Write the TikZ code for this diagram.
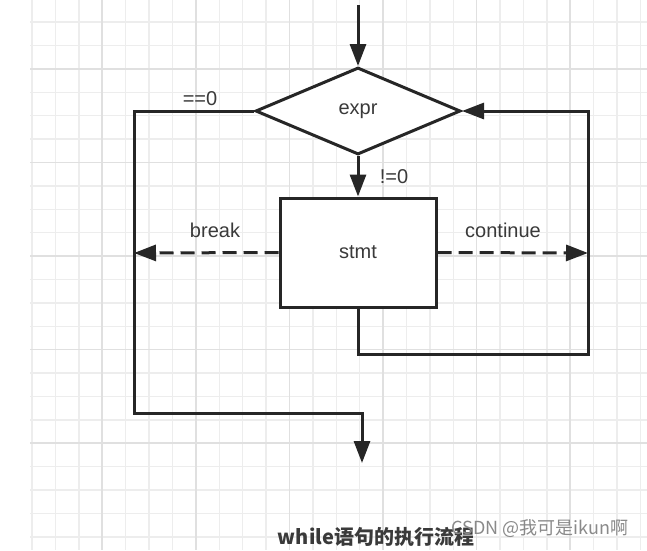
\documentclass[tikz,border=0pt]{standalone}
\usepackage{fontspec}
\usepackage{tikz}
\usepackage{xcolor}
\usetikzlibrary{arrows.meta, positioning, shapes.geometric}
\setmainfont{Liberation Sans}
\newfontfamily\cjk{Noto Sans CJK SC}
\definecolor{gridgray}{HTML}{EDEDED}
\definecolor{gridmajor}{HTML}{E0E0E0}
\definecolor{linegray}{HTML}{262626}
\definecolor{textgray}{HTML}{3A3A3A}
\definecolor{markgray}{HTML}{8A8A8A}

\begin{document}
\begin{tikzpicture}[
    x=1pt, y=-1pt,
    grid/.style={gridgray, line width=1.4pt},
    gridmaj/.style={gridmajor, line width=1.6pt},
    decision/.style={diamond, draw=linegray, line width=3pt, fill=white, inner sep=0pt, minimum width=205pt, minimum height=87pt, font=\fontsize{20}{24}\selectfont, text=textgray},
    box/.style={rectangle, draw=linegray, line width=3pt, fill=white, minimum width=156pt, minimum height=109pt, font=\fontsize{20}{24}\selectfont, text=textgray},
    arrow/.style={-{Triangle[length=22pt, width=16pt]}, line width=3pt, linegray},
    jump/.style={-{Triangle[length=22pt, width=16pt]}, line width=3pt, linegray, dash pattern=on 14pt off 7pt},
    lbl/.style={font=\fontsize{20}{24}\selectfont, text=textgray}
]
\useasboundingbox (0,0) rectangle (647,550);
\fill[white] (0,0) rectangle (647,550);

% background grid
\foreach \i in {0,...,22} {
  \draw[grid] (30,22+\i*23.4) -- (647,22+\i*23.4);
}
\foreach \i in {0,...,26} {
  \draw[grid] (32+\i*23.4,0) -- (32+\i*23.4,550);
}
\foreach \i in {0,...,4} {
  \draw[gridmaj] (30,68.8+\i*93.6) -- (647,68.8+\i*93.6);
}
\foreach \i in {0,...,5} {
  \draw[gridmaj] (102.2+\i*93.6,0) -- (102.2+\i*93.6,550);
}

\node[decision] (expr) at (358,111) {expr};
\node[box] (stmt) at (358,252.5) {stmt};

\coordinate (entry) at (358,5);
\coordinate (exit) at (362,463);
\coordinate (leftbot) at (134,413);
\coordinate (lefttop) at (134,111);
\coordinate (rightbot) at (588,354);
\coordinate (righttop) at (588,111);
\coordinate (brk) at (134,253);
\coordinate (cnt) at (588,253);

\draw[arrow] (entry) -- (expr.north);
\draw[arrow] (expr.south) -- (stmt.north);
\draw[arrow] (expr.west) -- (lefttop) -- (leftbot) -| (exit);
\draw[arrow] (stmt.south) |- (rightbot) -- (righttop) -- (expr.east);
\draw[jump] (stmt.west) -- (brk);
\draw[jump] (stmt.east) -- (cnt);

\node[lbl] (zero) at (200,99) {==0};
\node[lbl] (nonzero) at (394,177) {!=0};
\node[lbl] (brklbl) at (215,230) {break};
\node[lbl] (cntlbl) at (503,230) {continue};

\node[font=\cjk\fontsize{20}{24}\selectfont\bfseries, text=textgray] (caption) at (376,537) {while语句的执行流程};
\node[font=\cjk\fontsize{18}{22}\selectfont, text=markgray] (mark) at (540,529) {CSDN @我可是ikun啊};
\end{tikzpicture}
\end{document}
